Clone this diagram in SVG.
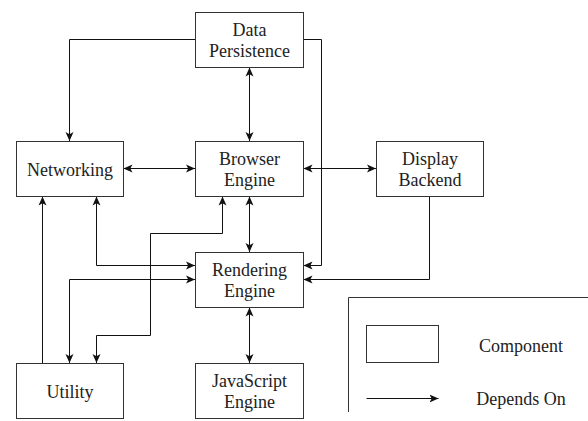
<svg xmlns="http://www.w3.org/2000/svg" width="588" height="421" viewBox="0 0 588 421">
  <style>
    .box { fill: #ffffff; stroke: #333333; stroke-width: 1; }
    .lbl { font-family: "Liberation Serif", "Times New Roman", serif; font-size: 18px; fill: #222222; text-anchor: middle; }
    .wire { fill: none; stroke: #111111; stroke-width: 1; }
    .one { marker-end: url(#tip); }
    .two { marker-start: url(#tip); marker-end: url(#tip); }
  </style>
  <defs>
    <marker id="tip" viewBox="0 0 9 9" markerWidth="9" markerHeight="9" refX="9" refY="4.5" orient="auto-start-reverse" markerUnits="userSpaceOnUse">
      <path d="M0,0.5 L9,4.5 L0,8.5 L2.2,4.5 Z" fill="#111111"/>
    </marker>
  </defs>

  <rect width="588" height="421" fill="#ffffff"/>

  <!-- dependency connectors -->
  <g id="connectors">
    <path class="wire one" d="M195.5,39.5 H69.5 V141"/>
    <path class="wire one" d="M303.5,39.5 H321.5 V265.5 H303.5"/>
    <path class="wire two" d="M249.5,67.5 V141"/>
    <path class="wire two" d="M123.5,168.5 H195"/>
    <path class="wire two" d="M303.5,168.5 H376"/>
    <path class="wire one" d="M429.5,196.5 V279.5 H303.5"/>
    <path class="wire two" d="M249.5,196.5 V252"/>
    <path class="wire two" d="M96.5,196.5 V265.5 H195"/>
    <path class="wire one" d="M42.5,363 V196.5"/>
    <path class="wire two" d="M195,279.5 H69.5 V363"/>
    <path class="wire two" d="M222.5,196.5 V233.5 H150.5 V335.5 H96.5 V363"/>
    <path class="wire two" d="M249.5,307.5 V363"/>
  </g>

  <g id="data-persistence">
    <rect class="box" x="195.5" y="12.5" width="108" height="55"/>
    <text class="lbl" x="249.5" y="35.5">Data</text>
    <text class="lbl" x="249.5" y="57">Persistence</text>
  </g>

  <g id="networking">
    <rect class="box" x="16.5" y="141.5" width="107" height="55"/>
    <text class="lbl" x="70" y="175.5">Networking</text>
  </g>

  <g id="browser-engine">
    <rect class="box" x="195.5" y="141.5" width="108" height="55"/>
    <text class="lbl" x="249.5" y="164.5">Browser</text>
    <text class="lbl" x="249.5" y="186">Engine</text>
  </g>

  <g id="display-backend">
    <rect class="box" x="376.5" y="141.5" width="107" height="55"/>
    <text class="lbl" x="430" y="164.5">Display</text>
    <text class="lbl" x="430" y="186">Backend</text>
  </g>

  <g id="rendering-engine">
    <rect class="box" x="195.5" y="252.5" width="108" height="55"/>
    <text class="lbl" x="249.5" y="275.5">Rendering</text>
    <text class="lbl" x="249.5" y="297">Engine</text>
  </g>

  <g id="utility">
    <rect class="box" x="16.5" y="363.5" width="107" height="55"/>
    <text class="lbl" x="70" y="397.5">Utility</text>
  </g>

  <g id="javascript-engine">
    <rect class="box" x="195.5" y="363.5" width="108" height="55"/>
    <text class="lbl" x="249.5" y="386.5">JavaScript</text>
    <text class="lbl" x="249.5" y="408">Engine</text>
  </g>

  <!-- legend -->
  <g id="legend">
    <path d="M348.5,412 V297.5 H588" fill="none" stroke="#333333" stroke-width="1"/>
    <rect class="box" x="366.5" y="325.5" width="72" height="37"/>
    <text class="lbl" x="521" y="352">Component</text>
    <path class="wire one" d="M366.5,398.5 H438.5"/>
    <text class="lbl" x="521" y="405">Depends On</text>
  </g>
</svg>
